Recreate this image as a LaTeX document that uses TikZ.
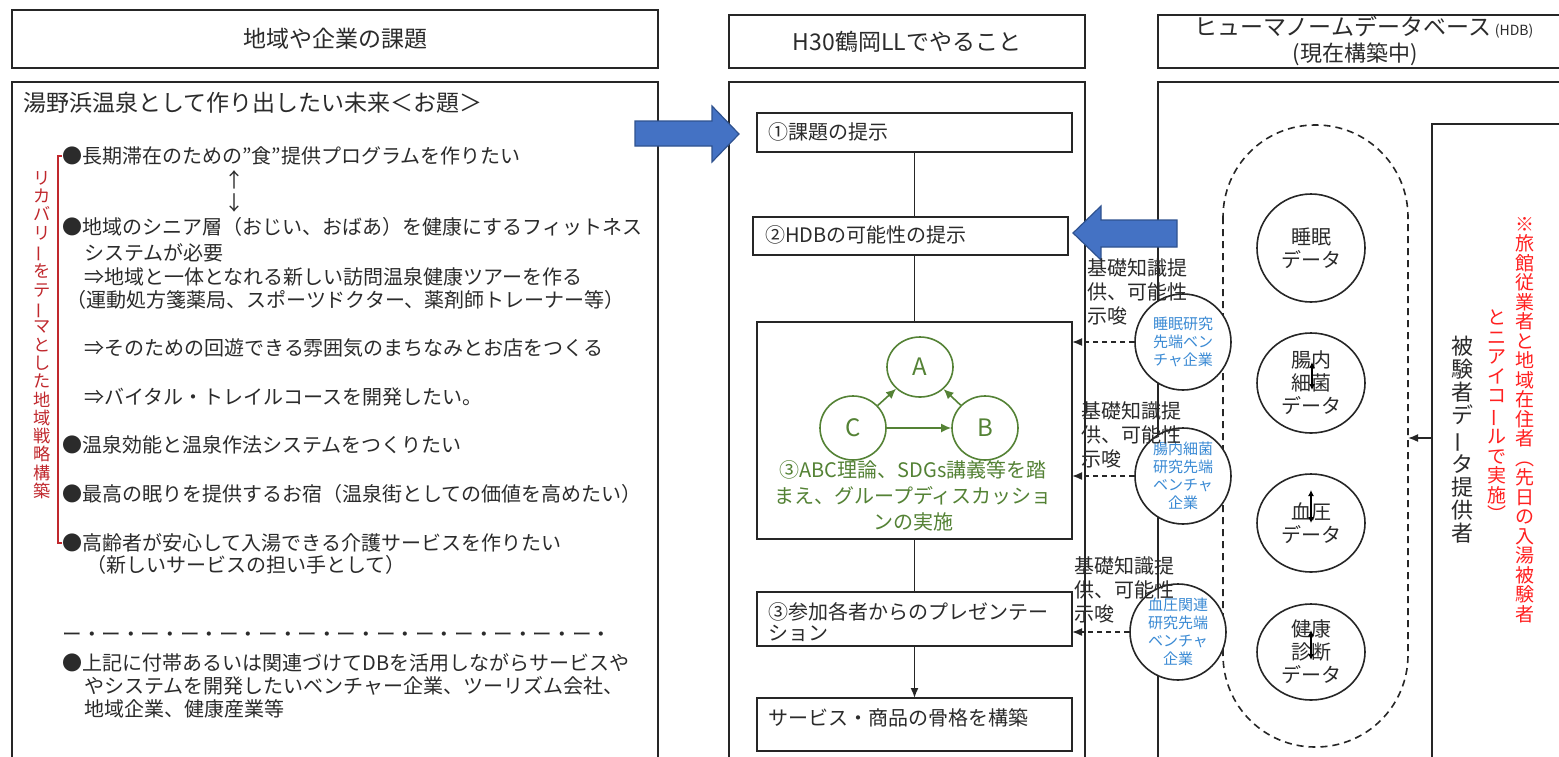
\documentclass[tikz,border=0pt]{standalone}
\usepackage{fontspec}
\setmainfont{Noto Sans CJK JP}
\usetikzlibrary{arrows.meta,shapes.geometric}
\definecolor{txtc}{HTML}{2B2B2B}
\definecolor{blueA}{HTML}{4472C4}
\definecolor{blueE}{HTML}{2F528F}
\definecolor{grn}{HTML}{548235}
\definecolor{lblue}{HTML}{3A8AD4}
\definecolor{dred}{HTML}{C0282D}
\definecolor{bred}{HTML}{FF2020}
\newcommand\fsz[2]{\fontsize{#1pt}{#2pt}\selectfont}
\newcommand\vbar{\rotatebox[origin=c]{90}{ー}}
\tikzset{
  frame/.style={draw=black!85, line width=0.8pt, anchor=north west, inner sep=0, outer sep=0},
  t/.style={inner sep=0, anchor=west, text=txtc, font=\fsz{10}{12}},
  vt/.style={inner sep=0, align=center},
  conn/.style={draw=black!85, line width=0.8pt},
  circ/.style={draw=black!85, line width=0.8pt, ellipse, inner sep=0, fill=white},
  gcirc/.style={draw=grn, line width=0.8pt, ellipse, inner sep=0, text=grn, font=\fsz{12}{14}},
  garr/.style={draw=grn, line width=0.8pt, -{Latex[length=5pt,width=4.5pt]}},
  darr/.style={draw=black!85, line width=0.8pt, dash pattern=on 2.5pt off 2pt, -{Latex[length=5pt,width=4pt]}},
  barrow/.style={fill=blueA, draw=blueE, line width=0.6pt},
  lab/.style={inner sep=0, anchor=north west, align=left, text=txtc, font=\fsz{10}{12}},
  vent/.style={circ, minimum size=48pt, text=lblue, align=center, font=\fsz{7.5}{9}},
  dcirc/.style={circ, minimum width=54pt, text=txtc, align=center, font=\fsz{10}{11.5}},
  small/.style={draw=black, line width=0.8pt, {Latex[length=3pt,width=3pt]}-{Latex[length=3pt,width=3pt]}}
}
\begin{document}
\begin{tikzpicture}[x=0.5pt,y=-0.5pt]
\clip (0,0) rectangle (1559,756);
\fill[white] (0,0) rectangle (1559,756);

% headers
\node[frame, minimum width=323pt, minimum height=29pt] (h1) at (12,10) {};
\node[t, anchor=center, font=\fsz{11.5}{13}] (h1t) at (335,39) {地域や企業の課題};
\node[frame, minimum width=178pt, minimum height=26.5pt] (h2) at (729,15) {};
\node[t, anchor=center, font=\fsz{11.5}{13}] (h2t) at (907,42) {H30鶴岡LLでやること};
\node[frame, minimum width=221pt, minimum height=26.5pt] (h3) at (1158,15) {};
\node[t, anchor=center, font=\fsz{11.5}{13}] (h3a) at (1364,27) {ヒューマノームデータベース\,{\fsz{7}{8}(HDB)}};
\node[t, anchor=center, font=\fsz{11}{13}] (h3b) at (1355,54) {(現在構築中)};

% panels
\node[frame, minimum width=323pt, minimum height=360pt] (p1) at (12,82) {};
\node[frame, minimum width=178pt, minimum height=360pt] (p2) at (729,82) {};
\node[frame, minimum width=221pt, minimum height=360pt] (p3) at (1158,82) {};

% left panel texts
\node[t, font=\fsz{11.5}{13}] (l0) at (23,103) {湯野浜温泉として作り出したい未来＜お題＞};
\node[t] (l1) at (62,156) {●長期滞在のための"食"提供プログラムを作りたい};
\node[t, anchor=center] (up) at (234,180) {↑};
\node[t, anchor=center] (dn) at (234,203) {↓};
\node[t] (l2) at (62,227) {●地域のシニア層（おじい、おばあ）を健康にするフィットネス};
\node[t] (l3) at (84,253) {システムが必要};
\node[t] (l4) at (84,277) {⇒地域と一体となれる新しい訪問温泉健康ツアーを作る};
\node[t] (l5) at (66,300) {（運動処方箋薬局、スポーツドクター、薬剤師トレーナー等）};
\node[t] (l6) at (84,348) {⇒そのための回遊できる雰囲気のまちなみとお店をつくる};
\node[t] (l7) at (84,397) {⇒バイタル・トレイルコースを開発したい。};
\node[t] (l8) at (62,445) {●温泉効能と温泉作法システムをつくりたい};
\node[t] (l9) at (62,494) {●最高の眠りを提供するお宿（温泉街としての価値を高めたい）};
\node[t] (l10) at (62,543) {●高齢者が安心して入湯できる介護サービスを作りたい};
\node[t] (l11) at (86,565) {（新しいサービスの担い手として）};
\node[t, font=\fsz{9.8}{12}] (dd) at (62,637) {ー・ー・ー・ー・ー・ー・ー・ー・ー・ー・ー・ー・ー・ー・};
\node[t] (l12) at (62,663) {●上記に付帯あるいは関連づけてDBを活用しながらサービスや};
\node[t] (l13) at (84,686) {やシステムを開発したいベンチャー企業、ツーリズム会社、};
\node[t] (l14) at (84,709) {地域企業、健康産業等};

% red bracket and vertical label
\draw[dred, line width=0.8pt] (l1.west) -- ++(-4,0) |- (l10.west);
\node[vt, text=dred, font=\fsz{8.6}{9.15}] (vl) at (42,335) {リ\\カ\\バ\\リ\\\vbar\\を\\テ\\\vbar\\マ\\と\\し\\た\\地\\域\\戦\\略\\構\\築};

% blue arrows
\draw[barrow] (635,121) -- (712,121) -- (712,106) -- (739,134) -- (712,162) -- (712,146) -- (635,146) -- cycle;
\draw[barrow] (1177,220) -- (1101,220) -- (1101,206) -- (1073,233) -- (1101,260) -- (1101,247) -- (1177,247) -- cycle;

% middle boxes
\node[frame, minimum width=157.5pt, minimum height=19.5pt] (b1) at (757,113) {};
\node[t] (b1t) at (768,132) {①課題の提示};
\node[frame, minimum width=157.5pt, minimum height=19pt] (b2) at (753,217) {};
\node[t] (b2t) at (765,235) {②HDBの可能性の提示};
\node[frame, minimum width=157.5pt, minimum height=108.5pt] (b3) at (757,322) {};
\node[frame, minimum width=157.5pt, minimum height=27pt] (b4) at (757,592) {};
\node[t, align=left, font=\fsz{10}{10.6}] (b4t) at (768,622) {③参加各者からのプレゼンテー\\ション};
\node[frame, minimum width=157.5pt, minimum height=26.5pt] (b5) at (757,698) {};
\node[t] (b5t) at (768,718) {サービス・商品の骨格を構築};

\draw[conn] (b1.south) -- (b1.south |- b2.north);
\draw[conn] (b3.north |- b2.south) -- (b3.north);
\draw[conn] (b3.south) -- (b4.north);
\draw[conn, -{Latex[length=5pt,width=4pt]}] (b4.south) -- (b5.north);

% ABC
\node[gcirc, minimum width=33pt, minimum height=30pt] (A) at (920,367) {A};
\node[gcirc, minimum width=33pt, minimum height=32pt] (C) at (853,428) {C};
\node[gcirc, minimum width=33pt, minimum height=32pt] (B) at (985,428) {B};
\draw[garr] (C) -- (A);
\draw[garr] (B) -- (A);
\draw[garr] (C) -- (B);
\node[vt, text=grn, font=\fsz{10}{13}] (gt) at (913,496) {③ABC理論、SDGs講義等を踏\\まえ、グループディスカッショ\\ンの実施};

% right panel: capsule
\draw[black!85, line width=0.8pt, dash pattern=on 3.5pt off 2.5pt, rounded corners=46pt] (1223,125) rectangle (1408,747);
\coordinate (capR) at (1408,438);

% data circles
\node[dcirc, minimum height=54pt] (d1) at (1311,248) {睡眠\\データ};
\node[dcirc, minimum height=50pt] (d2) at (1311,383) {腸内\\細菌\\データ};
\node[dcirc, minimum height=49pt] (d3) at (1311,523) {血圧\\データ};
\node[dcirc, minimum height=48pt] (d4) at (1311,652) {健康\\診断\\データ};
\coordinate (s2a) at (1312,362); \coordinate (s2b) at (1312,390);
\coordinate (s3a) at (1311,490); \coordinate (s3b) at (1311,523);
\coordinate (s4a) at (1311,630); \coordinate (s4b) at (1311,660);
\draw[small] (s2a) -- (s2b);
\draw[small] (s3a) -- (s3b);
\draw[small] (s4a) -- (s4b);

% venture circles
\node[vent] (v1) at (1183,342) {睡眠研究\\先端ベン\\チャ企業};
\node[vent] (v2) at (1183,476) {腸内細菌\\研究先端\\ベンチャ\\企業};
\node[vent] (v3) at (1178,632) {血圧関連\\研究先端\\ベンチャ\\企業};
\draw[darr] (v1.west) -- (v1.west -| b3.east);
\draw[darr] (v2.west) -- (v2.west -| b3.east);
\draw[darr] (v3.west) -- (v3.west -| b4.east);

% labels
\node[lab] (lb1) at (1087,258) {基礎知識提\\供、可能性\\示唆};
\node[lab] (lb2) at (1081,401) {基礎知識提\\供、可能性\\示唆};
\node[lab] (lb3) at (1074,556) {基礎知識提\\供、可能性\\示唆};

% subject box
\node[frame, minimum width=74pt, minimum height=340pt] (subj) at (1432,124) {};
\draw[conn, -{Latex[length=5pt,width=4pt]}] (capR -| subj.west) -- (capR);
\node[vt, text=txtc, font=\fsz{11}{11.5}] (sj1) at (1462,440) {被\\験\\者\\デ\\\vbar\\タ\\提\\供\\者};
\node[vt, text=bred, font=\fsz{9.5}{9.75}] (sj2) at (1525,420) {※\\旅\\館\\従\\業\\者\\と\\地\\域\\在\\住\\者\\︵\\先\\日\\の\\入\\湯\\被\\験\\者};
\node[vt, text=bred, font=\fsz{9.5}{9.75}] (sj3) at (1497,416) {と\\ニ\\ア\\イ\\コ\\\vbar\\ル\\で\\実\\施\\︶};
\end{tikzpicture}
\end{document}
